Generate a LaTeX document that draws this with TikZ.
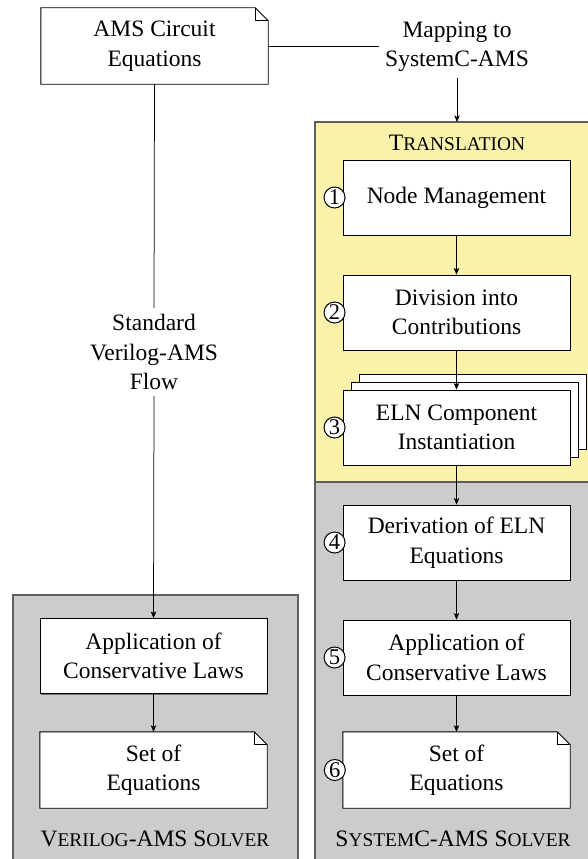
\documentclass[tikz,border=0pt]{standalone}
\usepackage{fontspec}
\setmainfont{Liberation Serif}
\usetikzlibrary{arrows.meta,shadows}

\pgfdeclarelayer{panels}
\pgfdeclarelayer{outlines}
\pgfsetlayers{panels,outlines,main}

\definecolor{transfill}{RGB}{250,242,170}
\definecolor{solverfill}{RGB}{204,204,204}
\definecolor{panelline}{RGB}{95,95,95}

\newcommand\labelsize{\fontsize{23.5}{29.5}\selectfont}
\newcommand\capsize{\fontsize{19.4}{24}\selectfont}
\newcommand\numsize{\fontsize{22.5}{24}\selectfont}

\tikzset{
  stepbox/.style={draw, line width=0.9pt, fill=white, minimum width=227pt,
    minimum height=75pt, inner sep=0pt, align=center, font=\labelsize,
    drop shadow={shadow xshift=1.2pt, shadow yshift=-1.2pt, fill=black!55, opacity=1}},
  notebox/.style={minimum width=227pt, minimum height=76pt, inner sep=0pt,
    align=center, font=\labelsize},
  stepnum/.style={circle, draw, line width=1pt, fill=white, inner sep=0.6pt,
    minimum size=21pt, font=\numsize},
  flow/.style={-{Stealth[length=6.5pt,width=5.5pt,inset=1.5pt]}, line width=0.75pt},
  plain/.style={line width=0.75pt},
  panel/.style={draw=panelline, line width=1.3pt},
  paneltitle/.style={anchor=base, font=\labelsize, inner sep=0pt},
  textlabel/.style={align=center, font=\labelsize, inner sep=6pt},
}

% document outline with a folded top-right corner around a node
\newcommand\dogear[1]{%
  \filldraw[fill=white, line width=0.9pt] (#1.south west) -- (#1.north west)
    -- ([xshift=-13pt]#1.north east) -- ([yshift=-13pt]#1.north east)
    -- (#1.south east) -- cycle;
  \draw[line width=0.9pt] ([xshift=-13pt]#1.north east) |- ([yshift=-13pt]#1.north east);}

\begin{document}
\begin{tikzpicture}[x=1pt, y=-1pt]
\useasboundingbox (0,0) rectangle (587,859);

% background panels
\begin{pgfonlayer}{panels}
  \filldraw[panel, fill=transfill] (315,122) rectangle (595,482);
  \filldraw[panel, fill=solverfill] (315,482) rectangle (595,875);
  \filldraw[panel, fill=solverfill] (13,595) rectangle (298,875);
\end{pgfonlayer}

% input and mapping
\node[notebox] (ams) at (154.5,46) {AMS Circuit\\Equations};
\node[textlabel] (map) at (457,47) {Mapping to\\SystemC-AMS};
\coordinate (transtop) at (457,122);

% translation steps
\node[paneltitle] (transtitle) at (457,150) {T{\capsize RANSLATION}};
\node[stepbox] (n1) at (456.5,197.5) {Node Management};
\node[stepbox] (n2) at (456.5,312.5) {Division into\\Contributions};
\node[stepbox] (n3b) at (472.5,411.5) {};
\node[stepbox] (n3a) at (464.5,419.5) {};
\node[stepbox] (n3) at (456.5,427.5) {ELN Component\\Instantiation};

% SystemC-AMS solver
\node[stepbox] (n4) at (456.5,542.5) {Derivation of ELN\\Equations};
\node[stepbox] (n5) at (456.5,657.5) {Application of\\Conservative Laws};
\node[notebox] (n6) at (456.5,770) {Set of\\Equations};
\node[paneltitle] (sctitle) at (453,846) {S{\capsize YSTEM}C-AMS S{\capsize OLVER}};

% Verilog-AMS flow
\node[textlabel] (flowlbl) at (154,352) {Standard\\Verilog-AMS\\Flow};
\node[stepbox] (v1) at (153.5,656) {Application of\\Conservative Laws};
\node[notebox] (v2) at (153.5,770) {Set of\\Equations};
\node[paneltitle] (vtitle) at (155,846) {V{\capsize ERILOG}-AMS S{\capsize OLVER}};

\begin{pgfonlayer}{outlines}
  \dogear{ams}
  \dogear{n6}
  \dogear{v2}
\end{pgfonlayer}

% step numbers
\foreach \k in {1,...,6}
  \node[stepnum] (c\k) at ([xshift=-8pt]n\k.west) {\k};

% connectors
\draw[plain] (ams.east) -- (ams.east -| map.west);
\draw[flow] (map.south) -- (transtop);
\draw[flow] (n1.south) -- (n2.north);
\draw[flow] (n2.south) -- (n3.north);
\draw[flow] (n3.south) -- (n4.north);
\draw[flow] (n4.south) -- (n5.north);
\draw[flow] (n5.south) -- (n6.north);
\draw[plain] (ams.south) -- (flowlbl.north);
\draw[flow] (flowlbl.south) -- (v1.north);
\draw[flow] (v1.south) -- (v2.north);
\end{tikzpicture}
\end{document}
